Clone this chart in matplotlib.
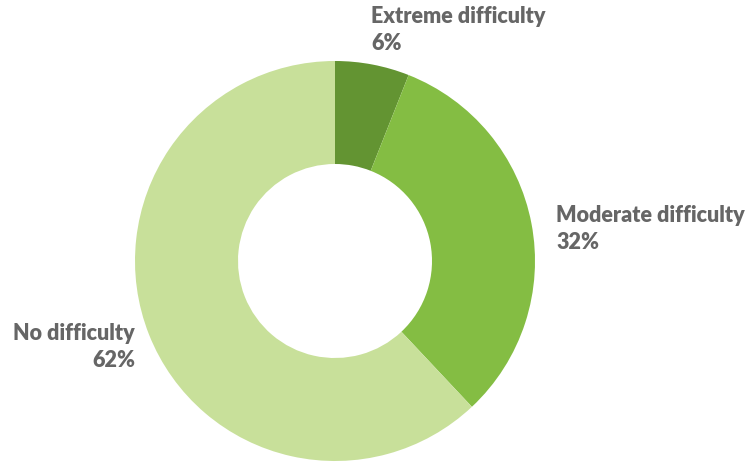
import matplotlib.pyplot as plt

# data
labels = ["Extreme difficulty", "Moderate difficulty", "No difficulty"]
shares = [6, 32, 62]
colors = ["#639432", "#84bd43", "#c8e09a"]

W, H = 746, 463
fig = plt.figure(figsize=(W / 100, H / 100), dpi=100)
ax = fig.add_axes([0, 0, 1, 1])

cx, cy, r = 335, H - 261, 200
ax.pie(shares, colors=colors, startangle=90, counterclock=False,
       center=(cx, cy), radius=r, frame=True,
       wedgeprops=dict(width=103, linewidth=0))
ax.set_xlim(0, W)
ax.set_ylim(0, H)
ax.axis("off")

txt = dict(fontsize=15.5, fontweight="heavy", color="#666666",
           family=["Lato", "DejaVu Sans"], va="center", linespacing=1.4)
ax.text(371, H - 30, f"{labels[0]}\n{shares[0]}%", ha="left", **txt)
ax.text(556, H - 229, f"{labels[1]}\n{shares[1]}%", ha="left", **txt)
ax.text(135, H - 347, f"{labels[2]}\n{shares[2]}%", ha="right",
        multialignment="right", **txt)

fig.savefig("out.png", dpi=100)
